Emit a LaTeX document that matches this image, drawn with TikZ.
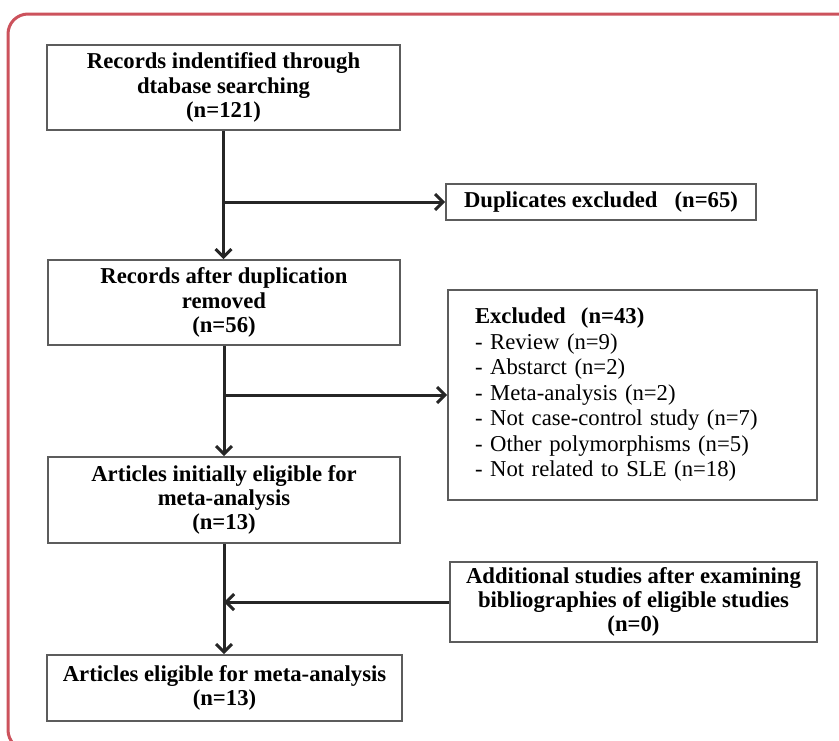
\documentclass[tikz,border=0pt]{standalone}
\usepackage{fontspec}
\setmainfont{Liberation Serif}
\usetikzlibrary{arrows.meta}
\usetikzlibrary{positioning}
\definecolor{framered}{rgb}{0.80,0.32,0.36}
\definecolor{boxgray}{rgb}{0.36,0.36,0.36}
\tikzset{%
  flowbox/.style={rectangle,draw=boxgray,line width=1.6pt,align=center,inner sep=0pt,font=\bfseries\fontsize{22.7}{24.4}\selectfont}
}
\tikzset{%
  listbox/.style={rectangle,draw=boxgray,line width=1.6pt,align=left,inner xsep=27pt,inner ysep=0pt,font=\fontsize{22.7}{25.5}\selectfont}
}
\tikzset{%
  flowline/.style={line width=3pt,draw=black!85},
  flowarrow/.style={flowline,-{Straight Barb[length=8pt,width=16pt]}}
}

\begin{document}
\begin{tikzpicture}[x=1pt,y=-1pt]
  \clip (0,0) rectangle (839,740);
  \draw[framered,line width=3pt,rounded corners=20pt] (8,14) rectangle (880,750);

  \node[flowbox,minimum width=353pt,minimum height=85pt](records) at (223.5,87.5){Records indentified through\\dtabase searching\\(n=121)};
  \node[flowbox,minimum width=310pt,minimum height=36pt](dupl) at (601,202){Duplicates excluded\ \ \ (n=65)};

  \node[flowbox,minimum width=352pt,minimum height=85pt](afterdup) at (224,302.5){Records after duplication\\removed\\(n=56)};
  \node[listbox,minimum width=369pt,minimum height=210pt,text width=315pt](excluded) at (632.5,395){\textbf{Excluded\ \ (n=43)}\\- Review (n=9)\\- Abstarct (n=2)\\- Meta-analysis (n=2)\\- Not case-control study (n=7)\\- Other polymorphisms (n=5)\\- Not related to SLE (n=18)};

  \node[flowbox,minimum width=352pt,minimum height=86pt](initial) at (224,500){Articles initially eligible for\\meta-analysis\\(n=13)};
  \node[flowbox,minimum width=367pt,minimum height=80pt](additional) at (633.5,602){Additional studies after examining\\bibliographies of eligible studies\\(n=0)};

  \node[flowbox,minimum width=355pt,minimum height=66pt](eligible) at (224.5,688){Articles eligible for meta-analysis\\(n=13)};

  \draw[flowarrow] (records.south) -- (records.south |- afterdup.north);
  \draw[flowarrow] (records.south |- dupl.west) -- (dupl.west);
  \draw[flowarrow] (afterdup.south) -- (afterdup.south |- initial.north);
  \draw[flowarrow] (afterdup.south |- excluded.west) -- (excluded.west);
  \draw[flowarrow] (initial.south) -- (initial.south |- eligible.north);
  \draw[flowarrow] (additional.west) -- (initial.south |- additional.west);
\end{tikzpicture}
\end{document}
